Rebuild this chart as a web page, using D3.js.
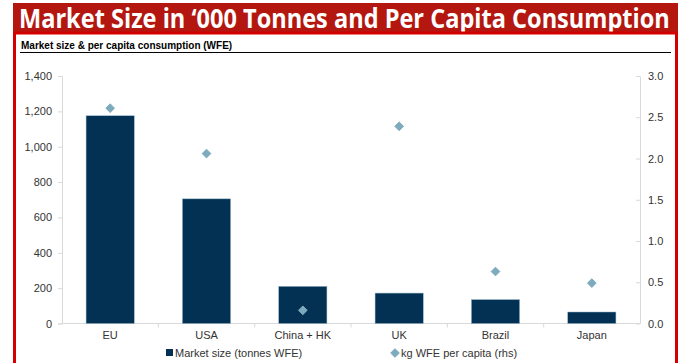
<!DOCTYPE html>
<html>
<head>
<meta charset="utf-8">
<script src="https://d3js.org/d3.v7.min.js"></script>
<style>
body { margin: 0; background: #fff; }
svg { display: block; }
.axis text { font: 11px "Liberation Sans", Arial, sans-serif; fill: #333; }
</style>
</head>
<body>
<svg id="chart" width="684" height="363"></svg>
<script>
// chart data
var categories = ["EU", "USA", "China + HK", "UK", "Brazil", "Japan"];
var marketSize = [1175, 705, 210, 172, 135, 65];
var perCapita = [2.61, 2.06, 0.16, 2.39, 0.63, 0.49];
var leftTicks = [0, 200, 400, 600, 800, 1000, 1200, 1400];
var rightTicks = [0, 0.5, 1.0, 1.5, 2.0, 2.5, 3.0];

var svg = d3.select("#chart");

// red title banner
svg.append("rect")
    .attr("x", 13).attr("y", 3)
    .attr("width", 665).attr("height", 30)
    .attr("fill", "#b3170f");

// title is squeezed horizontally so it fits the banner
var title = svg.append("text")
    .attr("x", 0).attr("y", 0)
    .style("font", "bold 27px 'Open Sans', sans-serif")
    .attr("fill", "#fff")
    .text("Market Size in \u2018000 Tonnes and Per Capita Consumption");
var tw = title.node().getComputedTextLength();
title.attr("transform", "translate(19,28) scale(" + (651 / tw) + ",1)");

// red frame of the content box
svg.append("rect")
    .attr("x", 14.5).attr("y", 33)
    .attr("width", 662).attr("height", 340)
    .attr("fill", "none")
    .attr("stroke", "#d40000")
    .attr("stroke-width", 3);

svg.append("text")
    .attr("x", 21).attr("y", 49)
    .style("font", "bold 10px 'Liberation Sans', Arial, sans-serif")
    .attr("fill", "#000")
    .text("Market size & per capita consumption (WFE)");

svg.append("line")
    .attr("x1", 20).attr("x2", 671)
    .attr("y1", 52.5).attr("y2", 52.5)
    .attr("stroke", "#000").attr("stroke-width", 1);

// plot area
var plotLeft = 62, plotRight = 640, plotTop = 76, plotBottom = 323.5;

var x = d3.scaleBand()
    .domain(categories)
    .range([plotLeft, plotRight])
    .paddingInner(0.5)
    .paddingOuter(0.25);

var yL = d3.scaleLinear().domain([0, 1400]).range([plotBottom, plotTop]);
var yR = d3.scaleLinear().domain([0, 3]).range([plotBottom, plotTop]);

// left axis
var gl = svg.append("g")
    .attr("class", "axis")
    .attr("transform", "translate(" + plotLeft + ",0)")
    .call(d3.axisLeft(yL).tickValues(leftTicks).tickSize(4).tickPadding(6)
        .tickFormat(d3.format(",")));
gl.selectAll("path, line").attr("stroke", "#d9d9d9");

// right axis
var gr = svg.append("g")
    .attr("class", "axis")
    .attr("transform", "translate(" + plotRight + ",0)")
    .call(d3.axisRight(yR).tickValues(rightTicks).tickSize(0).tickPadding(8)
        .tickFormat(d3.format(".1f")));
gr.selectAll("path").attr("stroke", "#d9d9d9");
gr.selectAll(".tick").append("line")
    .attr("x1", -4).attr("x2", 0)
    .attr("stroke", "#d9d9d9");

// bottom axis with ticks between categories
svg.append("line")
    .attr("x1", plotLeft).attr("x2", plotRight)
    .attr("y1", plotBottom).attr("y2", plotBottom)
    .attr("stroke", "#d9d9d9");

svg.selectAll(".sep")
    .data(categories.slice(1))
    .enter().append("line")
    .attr("x1", function(d) { return x(d) - x.bandwidth() / 2; })
    .attr("x2", function(d) { return x(d) - x.bandwidth() / 2; })
    .attr("y1", plotBottom).attr("y2", plotBottom + 4)
    .attr("stroke", "#d9d9d9");

svg.selectAll(".xlab")
    .data(categories)
    .enter().append("text")
    .attr("class", "xlab")
    .attr("x", function(d) { return x(d) + x.bandwidth() / 2; })
    .attr("y", plotBottom + 15)
    .attr("text-anchor", "middle")
    .style("font", "11px 'Liberation Sans', Arial, sans-serif")
    .attr("fill", "#333")
    .text(function(d) { return d; });

// bars
svg.selectAll(".bar")
    .data(categories)
    .enter().append("rect")
    .attr("x", function(d) { return x(d); })
    .attr("y", function(d, i) { return yL(marketSize[i]); })
    .attr("width", x.bandwidth())
    .attr("height", function(d, i) { return plotBottom - yL(marketSize[i]); })
    .attr("fill", "#023153")
    .attr("stroke", "#8fb0c4")
    .attr("stroke-width", 0.5);

// diamonds
var diamond = d3.symbol().type(d3.symbolDiamond2).size(48);
svg.selectAll(".pt")
    .data(categories)
    .enter().append("path")
    .attr("d", diamond)
    .attr("transform", function(d, i) {
        return "translate(" + (x(d) + x.bandwidth() / 2) + "," + yR(perCapita[i]) + ")";
    })
    .attr("fill", "#7eaabd")
    .attr("stroke", "#7eaabd")
    .attr("stroke-linejoin", "round")
    .attr("stroke-width", 1);

// legend
svg.append("rect")
    .attr("x", 166).attr("y", 349)
    .attr("width", 7).attr("height", 7)
    .attr("fill", "#023153");
svg.append("text")
    .attr("x", 175).attr("y", 357)
    .style("font", "11px 'Liberation Sans', Arial, sans-serif")
    .attr("fill", "#333")
    .text("Market size (tonnes WFE)");

svg.append("path")
    .attr("d", diamond)
    .attr("transform", "translate(395,353)")
    .attr("fill", "#7eaabd")
    .attr("stroke", "#7eaabd")
    .attr("stroke-linejoin", "round")
    .attr("stroke-width", 1);
svg.append("text")
    .attr("x", 401).attr("y", 357)
    .style("font", "11px 'Liberation Sans', Arial, sans-serif")
    .attr("fill", "#333")
    .text("kg WFE per capita (rhs)");
</script>
</body>
</html>
